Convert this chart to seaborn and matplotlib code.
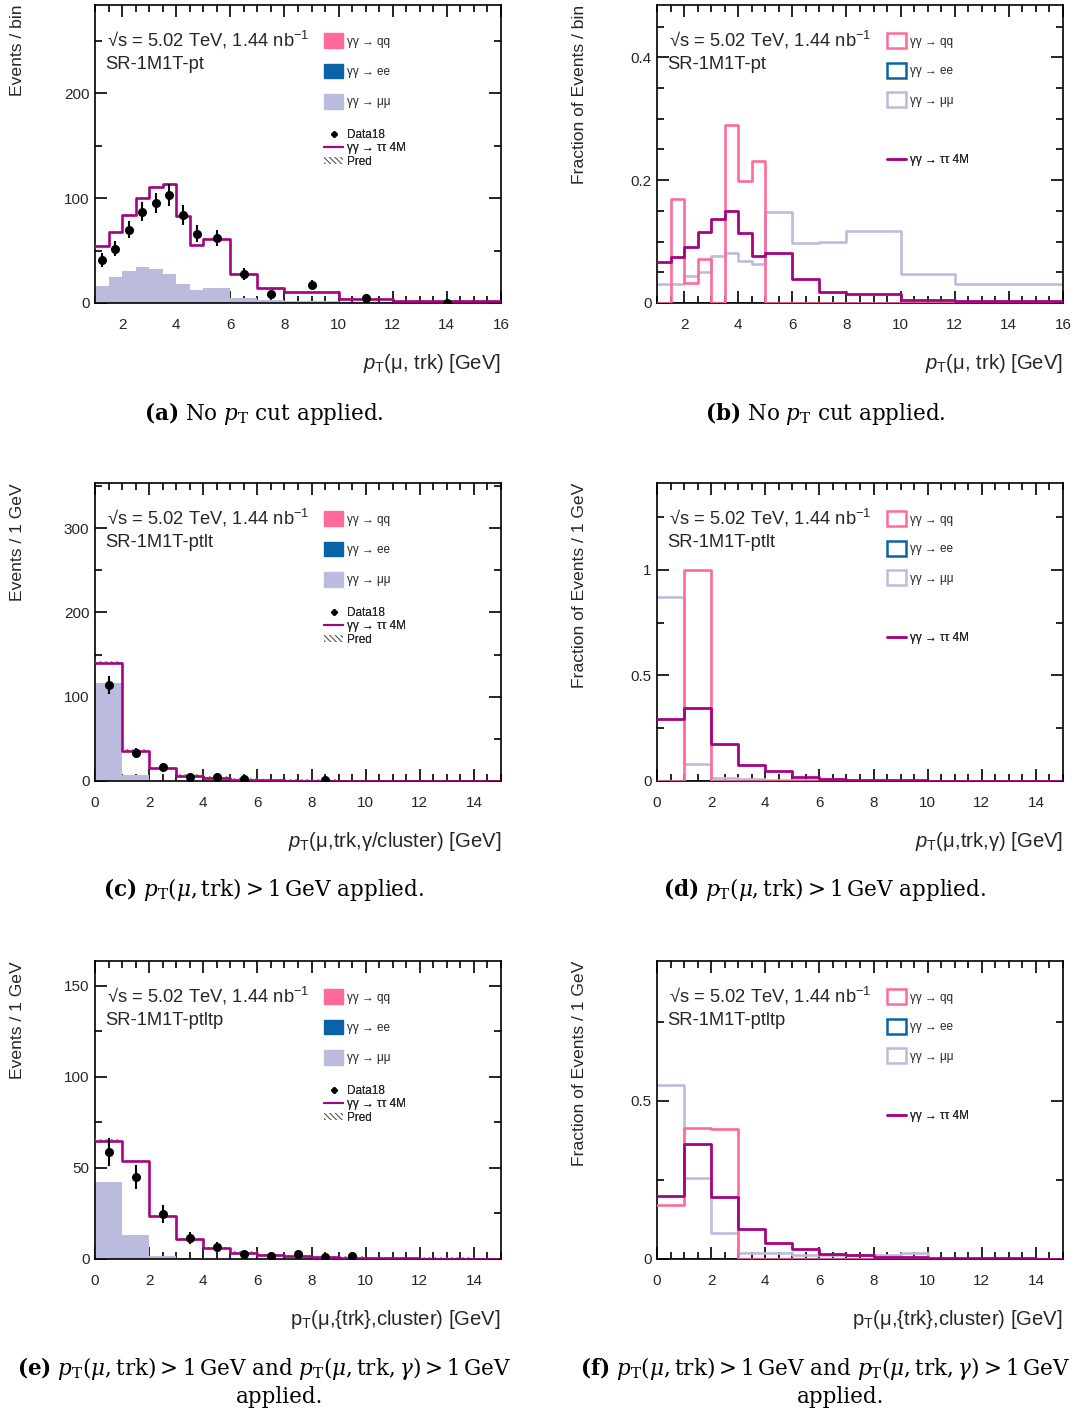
import numpy as np
import pandas as pd
import matplotlib
matplotlib.use("Agg")
import matplotlib.pyplot as plt
import seaborn as sns
from matplotlib.patches import Patch
from matplotlib.lines import Line2D
from matplotlib.ticker import MultipleLocator, FuncFormatter

# ---------------- data ----------------
edges_pt = [1, 1.5, 2, 2.5, 3, 3.5, 4, 4.5, 5, 6, 7, 8, 10, 12, 16]
edges_1gev = [0, 1, 2, 3, 4, 5, 6, 7, 8, 9, 10, 11, 12, 13, 14, 15]

# (a) stacked, Events / bin
mumu_a = [16.2, 25, 30.8, 34, 32.4, 27.6, 18, 12.4, 14.3, 5, 2.9, 1.9, 0.5, 0.3]
stack_a = [54.3, 67.9, 83.5, 100, 110.8, 113, 83.2, 55.2, 61, 27.3, 14, 10.2, 3.8, 1.9]
data_x_a = [1.25, 1.75, 2.25, 2.75, 3.25, 3.75, 4.25, 4.75, 5.5, 6.5, 7.5, 9, 11, 14]
data_a = [41, 51.7, 70, 87, 95, 103, 84, 66, 62, 27.6, 8.6, 17.5, 4.4, 0.3]
err_a = [6.4, 7.2, 8.4, 9.3, 9.7, 10.1, 9.2, 8.1, 7.9, 5.3, 2.9, 4.2, 2.1, 0.6]

# (b) fractions
qq_b = [0, 0.170, 0.033, 0.072, 0, 0.290, 0.199, 0.231, 0, 0, 0, 0, 0, 0]
ee_b = [0, 0, 0, 0, 0, 0, 0, 0, 0, 0, 0, 0, 0, 0]
mumu_b = [0.0314, 0.0314, 0.0444, 0.051, 0.0764, 0.0818, 0.0683, 0.064, 0.1485,
          0.098, 0.099, 0.1176, 0.0471, 0.0314]
tautau_b = [0.0667, 0.0753, 0.0916, 0.1154, 0.137, 0.150, 0.114, 0.0764, 0.0818,
            0.0385, 0.0184, 0.0152, 0.0049, 0.0027]

# (c) stacked, Events / 1 GeV
mumu_c = [115.9, 6.7, 0.5, 0.2, 0.1, 0, 0, 0, 0, 0, 0, 0, 0, 0, 0]
stack_c = [140.4, 36, 15.4, 6.3, 4, 1.6, 0.8, 0.5, 0.4, 0.3, 0.2, 0.2, 0.1, 0.1, 0.1]
data_x_c = [0.5, 1.5, 2.5, 3.5, 4.5, 5.5, 8.5]
data_c = [113.9, 33.6, 17, 5.1, 5.1, 2, 0.8]
err_c = [10.7, 5.8, 4.1, 2.3, 2.3, 1.4, 0.9]

# (d) fractions
qq_d = [0, 1.0, 0, 0, 0, 0, 0, 0, 0, 0, 0, 0, 0, 0, 0]
ee_d = [0] * 15
mumu_d = [0.871, 0.0806, 0.0158, 0.008, 0.006, 0.004, 0.003, 0.002, 0.002, 0.001,
          0.001, 0.001, 0.001, 0, 0]
tautau_d = [0.292, 0.344, 0.174, 0.076, 0.046, 0.0205, 0.011, 0.007, 0.004, 0.003,
            0.002, 0.002, 0.001, 0.001, 0.001]

# (e) stacked, Events / 1 GeV
mumu_e = [42.3, 13.2, 1.6, 0.3, 0.2, 0.1, 0.1, 0, 0, 0, 0, 0, 0, 0, 0]
stack_e = [65, 53.8, 23.6, 10.8, 6.2, 3.5, 2, 1.65, 0.9, 0.8, 0.4, 0.3, 0.2, 0.2, 0.1]
data_x_e = [0.5, 1.5, 2.5, 3.5, 4.5, 5.5, 6.5, 7.5, 8.5, 9.5]
data_e = [59, 45, 24.9, 11.7, 6.8, 2.7, 1.8, 2.7, 0.9, 1.7]
err_e = [7.7, 6.7, 5.0, 3.4, 2.6, 1.6, 1.3, 1.6, 0.9, 1.3]

# (f) fractions
qq_f = [0.171, 0.416, 0.412, 0, 0, 0, 0, 0, 0, 0, 0, 0, 0, 0, 0]
ee_f = [0] * 15
mumu_f = [0.552, 0.257, 0.081, 0.02, 0.018, 0.014, 0.012, 0.012, 0.012, 0.02,
          0, 0, 0, 0, 0]
tautau_f = [0.2, 0.364, 0.197, 0.095, 0.052, 0.032, 0.017, 0.012, 0.0075, 0.005,
            0.004, 0.003, 0.002, 0.002, 0.001]

# ---------------- style ----------------
C_QQ = "#FF6A9B"
C_EE = "#0A63A6"
C_MUMU = "#BBBCDD"
C_TAU = "#A6037F"

sns.set_theme(style="ticks")
plt.rcParams["font.family"] = ["Liberation Sans", "DejaVu Sans"]
plt.rcParams["mathtext.fontset"] = "custom"
plt.rcParams["mathtext.rm"] = "Liberation Sans"
plt.rcParams["mathtext.it"] = "Liberation Sans:italic"
plt.rcParams["mathtext.bf"] = "Liberation Sans:bold"
plt.rcParams["hatch.linewidth"] = 0.8

W, H = 1077, 1416
fig = plt.figure(figsize=(W / 100, H / 100), dpi=100)


def rect(l, t, r, b):
    return [l / W, 1 - b / H, (r - l) / W, (b - t) / H]


def step(ax, edges, vals, color, lw=2.0, fill=False, z=2):
    e = [float(v) for v in edges]
    centers = [(e[i] + e[i + 1]) / 2 for i in range(len(e) - 1)]
    df = pd.DataFrame({"x": centers, "w": [float(v) for v in vals]})
    if fill:
        sns.histplot(data=df, x="x", weights="w", bins=e, element="step", fill=True,
                     color=color, alpha=1, linewidth=0, ax=ax, zorder=z)
    else:
        sns.histplot(data=df, x="x", weights="w", bins=e, element="step", fill=False,
                     color=color, linewidth=lw, ax=ax, zorder=z)


fmt_g = FuncFormatter(lambda v, p: f"{v:g}")


def style_axes(ax, xlim, ylim, xmaj, xmin, ymaj, ymin, xlabel, ylabel):
    ax.set_xlim(*xlim)
    ax.set_ylim(*ylim)
    ax.xaxis.set_major_locator(MultipleLocator(xmaj))
    ax.xaxis.set_minor_locator(MultipleLocator(xmin))
    ax.yaxis.set_major_locator(MultipleLocator(ymaj))
    ax.yaxis.set_minor_locator(MultipleLocator(ymin))
    ax.xaxis.set_major_formatter(fmt_g)
    ax.yaxis.set_major_formatter(fmt_g)
    ax.tick_params(which="both", direction="in", top=True, right=True,
                   color="black", width=1.2)
    ax.tick_params(which="major", length=8.5)
    ax.tick_params(which="minor", length=4.8)
    ax.tick_params(axis="x", which="major", labelsize=11, pad=11)
    ax.tick_params(axis="y", which="major", labelsize=11, pad=4)
    for s in ax.spines.values():
        s.set_linewidth(1.2)
        s.set_color("black")
    ax.set_xlabel(xlabel, fontsize=14.6, loc="right")
    ax.xaxis.set_label_coords(1.0, -0.166)
    ax.set_ylabel(ylabel, fontsize=12.6, loc="top")
    ax.yaxis.set_label_coords(-0.172, 1.0)
    ax.set_facecolor("white")


def header(ax, region):
    ax.text(0.03, 0.883, "√s = 5.02 TeV, 1.44 nb$^{-1}$", transform=ax.transAxes,
            fontsize=13.2, va="center", ha="left")
    ax.text(0.025, 0.802, region, transform=ax.transAxes,
            fontsize=13.2, va="center", ha="left")


def stack_legend(ax):
    h1 = [Patch(facecolor=C_QQ, edgecolor=C_QQ),
          Patch(facecolor=C_EE, edgecolor=C_EE),
          Patch(facecolor=C_MUMU, edgecolor=C_MUMU)]
    l1 = ["γγ → qq", "γγ → ee", "γγ → μμ"]
    leg1 = ax.legend(h1, l1, loc="upper left", bbox_to_anchor=(0.564, 0.905),
                     frameon=False, fontsize=8.5, handlelength=1.65, handleheight=1.55,
                     labelspacing=1.32, handletextpad=0.3, borderpad=0, borderaxespad=0)
    ax.add_artist(leg1)
    h2 = [Line2D([], [], marker="D", ms=3, color="black", ls="none"),
          Line2D([], [], color=C_TAU, lw=1.5),
          Patch(facecolor="white", edgecolor="#555555", hatch="\\\\\\\\\\\\", lw=0)]
    l2 = ["Data18", "γγ → ττ 4M", "Pred"]
    leg2 = ax.legend(h2, l2, loc="upper left", bbox_to_anchor=(0.564, 0.585),
                     frameon=False, fontsize=8.5, handlelength=1.65, handleheight=0.55,
                     labelspacing=0.12, handletextpad=0.3, borderpad=0, borderaxespad=0)
    ax.add_artist(leg2)


def frac_legend(ax):
    h1 = [Patch(facecolor="white", edgecolor=C_QQ, lw=1.8),
          Patch(facecolor="white", edgecolor=C_EE, lw=1.8),
          Patch(facecolor="white", edgecolor=C_MUMU, lw=1.8)]
    l1 = ["γγ → qq", "γγ → ee", "γγ → μμ"]
    leg1 = ax.legend(h1, l1, loc="upper left", bbox_to_anchor=(0.566, 0.905),
                     frameon=False, fontsize=8.5, handlelength=1.65, handleheight=1.55,
                     labelspacing=1.25, handletextpad=0.3, borderpad=0, borderaxespad=0)
    ax.add_artist(leg1)
    leg2 = ax.legend([Line2D([], [], color=C_TAU, lw=1.8)], ["γγ → ττ 4M"],
                     loc="upper left", bbox_to_anchor=(0.566, 0.5), frameon=False,
                     fontsize=8.5, handlelength=1.65, handletextpad=0.3, borderpad=0,
                     borderaxespad=0)
    ax.add_artist(leg2)


def stacked_panel(ax, edges, mumu, stack, dx, dy, derr, ylim, ymaj, ymin,
                  xlim, xmaj, xmin, xlabel, ylabel, region):
    step(ax, edges, mumu, C_MUMU, fill=True, z=1)
    band = 0.004 * ylim[1]
    e = np.asarray(edges, float)
    s = np.asarray(stack, float)
    ax.fill_between(e, np.append(s - band, s[-1] - band), np.append(s + band, s[-1] + band),
                    step="post", facecolor="none", edgecolor="#777777",
                    hatch="\\\\\\\\\\\\", lw=0, zorder=3)
    step(ax, edges, stack, C_TAU, lw=1.9, z=4)
    ax.errorbar(dx, dy, yerr=derr, fmt="o", color="black", ms=5.5,
                elinewidth=1.5, capsize=0, zorder=6)
    style_axes(ax, xlim, ylim, xmaj, xmin, ymaj, ymin, xlabel, ylabel)
    header(ax, region)
    stack_legend(ax)


def frac_panel(ax, edges, qq, ee, mumu, tau, ylim, ymaj, ymin, xlim, xmaj, xmin,
               xlabel, ylabel, region):
    step(ax, edges, mumu, C_MUMU, lw=1.9, z=2)
    step(ax, edges, ee, C_EE, lw=1.9, z=2)
    step(ax, edges, qq, C_QQ, lw=1.9, z=3)
    step(ax, edges, tau, C_TAU, lw=2.0, z=4)
    style_axes(ax, xlim, ylim, xmaj, xmin, ymaj, ymin, xlabel, ylabel)
    header(ax, region)
    frac_legend(ax)


ax_a = fig.add_axes(rect(95, 5, 501, 303))
ax_b = fig.add_axes(rect(657, 5, 1063, 303))
ax_c = fig.add_axes(rect(95, 483, 501, 781))
ax_d = fig.add_axes(rect(657, 483, 1063, 781))
ax_e = fig.add_axes(rect(95, 961, 501, 1259))
ax_f = fig.add_axes(rect(657, 961, 1063, 1259))

xl_pt = r"$p_\mathrm{T}$(μ, trk) [GeV]"
stacked_panel(ax_a, edges_pt, mumu_a, stack_a, data_x_a, data_a, err_a,
              (0, 284), 100, 50, (1, 16), 2, 0.5, xl_pt, "Events / bin", "SR-1M1T-pt")
frac_panel(ax_b, edges_pt, qq_b, ee_b, mumu_b, tautau_b, (0, 0.485), 0.2, 0.05,
           (1, 16), 2, 0.5, xl_pt, "Fraction of Events / bin", "SR-1M1T-pt")
stacked_panel(ax_c, edges_1gev, mumu_c, stack_c, data_x_c, data_c, err_c,
              (0, 353.5), 100, 50, (0, 15), 2, 0.5,
              r"$p_\mathrm{T}$(μ,trk,γ/cluster) [GeV]", "Events / 1 GeV", "SR-1M1T-ptlt")
frac_panel(ax_d, edges_1gev, qq_d, ee_d, mumu_d, tautau_d, (0, 1.412), 0.5, 0.25,
           (0, 15), 2, 0.5, r"$p_\mathrm{T}$(μ,trk,γ) [GeV]",
           "Fraction of Events / 1 GeV", "SR-1M1T-ptlt")
stacked_panel(ax_e, edges_1gev, mumu_e, stack_e, data_x_e, data_e, err_e,
              (0, 163.7), 50, 25, (0, 15), 2, 0.5,
              r"p$_\mathrm{T}$(μ,{trk},cluster) [GeV]", "Events / 1 GeV", "SR-1M1T-ptltp")
frac_panel(ax_f, edges_1gev, qq_f, ee_f, mumu_f, tautau_f, (0, 0.943), 0.5, 0.25,
           (0, 15), 2, 0.5, r"p$_\mathrm{T}$(μ,{trk},cluster) [GeV]",
           "Fraction of Events / 1 GeV", "SR-1M1T-ptltp")

# ---------------- captions ----------------
cap_kw = dict(fontsize=15.5, family="DejaVu Serif", math_fontfamily="dejavuserif",
              ha="center", va="center", color="black")
capA = r"$\mathbf{(a)}$ No $p_\mathrm{T}$ cut applied."
capB = r"$\mathbf{(b)}$ No $p_\mathrm{T}$ cut applied."
capC = r"$\mathbf{(c)}$ $p_\mathrm{T}(\mu,\mathrm{trk})>1\,\mathrm{GeV}$ applied."
capD = r"$\mathbf{(d)}$ $p_\mathrm{T}(\mu,\mathrm{trk})>1\,\mathrm{GeV}$ applied."
capE = (r"$\mathbf{(e)}$ $p_\mathrm{T}(\mu,\mathrm{trk})>1\,\mathrm{GeV}$ and "
        r"$p_\mathrm{T}(\mu,\mathrm{trk},\gamma)>1\,\mathrm{GeV}$")
capF = (r"$\mathbf{(f)}$ $p_\mathrm{T}(\mu,\mathrm{trk})>1\,\mathrm{GeV}$ and "
        r"$p_\mathrm{T}(\mu,\mathrm{trk},\gamma)>1\,\mathrm{GeV}$")
fig.text(264 / W, 1 - 413 / H, capA, **cap_kw)
fig.text(825 / W, 1 - 413 / H, capB, **cap_kw)
fig.text(264 / W, 1 - 890 / H, capC, **cap_kw)
fig.text(825 / W, 1 - 890 / H, capD, **cap_kw)
fig.text(264 / W, 1 - 1369 / H, capE, **cap_kw)
fig.text(825 / W, 1 - 1369 / H, capF, **cap_kw)
fig.text(280 / W, 1 - 1397 / H, "applied.", **cap_kw)
fig.text(841 / W, 1 - 1397 / H, "applied.", **cap_kw)

fig.savefig("out.png", dpi=100, facecolor="white")
